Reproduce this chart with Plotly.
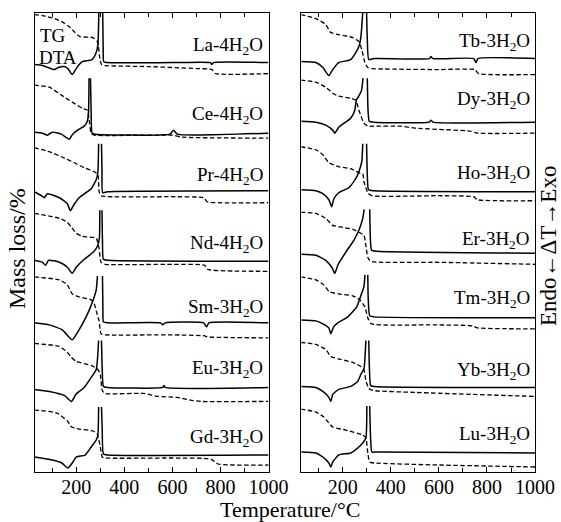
import plotly.graph_objects as go

# ---------------- data: (temperature °C, signal) pairs per sample ----------------
# TG = mass curve (dashed), DTA = differential thermal curve (solid).
# None marks the break at the top of the truncated exothermic peak.

LA_TG = [(25,64),(60,63),(110,60),(140,57),(170,52),(195,46),(215,42),(270,41),(288,37),(297,22),(305,14),(320,13),(500,12),(700,10),(765,9),(780,5),(1000,5)]
LA_DTA = [(25,14),(60,13),(109,9),(125,11),(150,12),(165,10),(183,4),(197,9),(212,14),(225,17),(266,19),(283,26),(290,34),(294,66),None,(310,66),(312,30),(314,17),(325,16),(600,16),(758,16),(764,14),(770,16),(1000,16)]

CE_TG = [(25,59),(88,57),(138,49),(183,42),(225,36),(246,34),(254,24),(262,11),(275,9),(600,9),(640,7),(1000,6)]
CE_DTA = [(25,12),(59,11),(80,9),(100,12),(138,10),(171,5),(185,10),(212,15),(233,18),(246,23),(251,32),(253,66),None,(259,66),(262,32),(266,11),(280,10),(590,10),(605,14),(620,10),(1000,11)]

PR_TG = [(25,62),(88,58),(138,53),(192,47),(233,42),(275,38),(290,35),(295,18),(303,14),(600,13),(730,12),(745,8),(1000,7)]
PR_DTA = [(25,18),(55,14),(67,12),(80,16),(130,12),(163,6),(175,-1),(190,5),(212,12),(240,17),(262,21),(283,30),(290,38),(293,66),None,(305,66),(307,40),(310,17),(330,18),(1000,19)]

ND_TG = [(25,62),(130,57),(163,53),(180,48),(200,42),(225,39),(283,37),(295,27),(303,13),(320,11),(600,11),(735,10),(745,6),(1000,4)]
ND_DTA = [(25,15),(59,13),(72,10),(85,15),(130,13),(163,8),(183,2),(200,8),(233,16),(270,23),(288,29),(296,37),(298,65),None,(307,65),(309,35),(313,16),(330,15),(1000,14)]

SM_TG = [(25,64),(130,61),(163,56),(183,47),(212,44),(262,41),(275,37),(283,30),(295,20),(303,7),(320,6),(600,6),(735,5),(745,4),(1000,3)]
SM_DTA = [(25,18),(88,16),(142,11),(183,1),(204,8),(241,24),(266,38),(283,51),(288,65),None,(309,65),(311,30),(313,19),(330,18),(550,18),(560,16),(570,18),(730,18),(742,14),(752,18),(1000,18)]

EU_TG = [(25,63),(130,60),(163,54),(180,49),(200,45),(262,41),(290,37),(300,32),(308,16),(320,13),(480,13),(540,10),(620,9),(680,6),(720,5),(1000,5)]
EU_DTA = [(25,17),(88,15),(150,11),(180,5),(198,12),(233,19),(262,29),(283,37),(293,66),None,(305,66),(308,37),(313,20),(330,19),(560,19),(565,21),(570,19),(1000,19)]

GD_TG = [(25,62),(120,59),(163,51),(180,45),(212,43),(270,41),(287,38),(300,25),(308,15),(320,14),(600,14),(760,13),(790,8),(1000,7)]
GD_DTA = [(25,15),(100,12),(140,9),(165,4),(183,9),(200,15),(237,17),(262,25),(283,32),(290,37),(293,65),None,(305,65),(308,42),(313,18),(330,17),(1000,17)]

TB_TG = [(25,64),(88,60),(129,54),(150,46),(183,44),(242,41),(267,37),(280,28),(292,16),(304,11),(320,10),(600,9),(750,9),(765,5),(1000,4)]
TB_DTA = [(25,17),(88,16),(117,11),(142,3),(158,9),(183,16),(233,19),(254,26),(267,32),(275,41),(283,66),None,(299,66),(302,39),(308,19),(330,20),(560,20),(567,22),(575,20),(745,20),(754,16),(762,20),(1000,20)]

DY_TG = [(25,64),(88,62),(129,57),(158,51),(183,48),(233,46),(254,44),(267,34),(288,21),(304,18),(330,18),(440,18),(500,16),(730,13),(760,11),(1000,11)]
DY_DTA = [(25,23),(88,22),(129,19),(158,14),(167,11),(183,17),(233,26),(250,34),(256,44),(264,47),(278,54),(284,66),None,(302,66),(305,34),(310,23),(330,22),(560,22),(567,24),(575,22),(1000,22)]

HO_TG = [(25,63),(88,60),(117,55),(142,47),(183,43),(233,41),(267,37),(283,36),(288,28),(304,17),(320,14),(600,14),(745,13),(760,10),(1000,9)]
HO_DTA = [(25,20),(88,19),(117,16),(142,10),(154,3),(163,11),(183,17),(225,22),(254,31),(267,38),(279,48),(283,66),None,(299,66),(302,35),(307,20),(330,19),(1000,18)]

ER_TG = [(25,63),(88,62),(129,57),(158,50),(200,48),(242,46),(267,43),(288,40),(296,30),(304,18),(316,14),(600,13),(1000,11)]
ER_DTA = [(25,21),(88,20),(129,15),(154,8),(167,2),(179,10),(212,23),(246,35),(267,45),(283,57),(289,66),None,(312,66),(315,35),(320,25),(340,24),(1000,22)]

TM_TG = [(25,64),(88,61),(121,56),(145,49),(183,47),(242,45),(271,41),(292,34),(304,23),(320,17),(580,16),(740,15),(760,13),(1000,12)]
TM_DTA = [(25,21),(88,20),(117,17),(142,13),(150,7),(162,14),(179,18),(221,24),(258,34),(279,48),(288,54),(292,66),None,(304,66),(306,41),(312,25),(330,24),(1000,23)]

YB_TG = [(25,64),(88,62),(129,57),(150,50),(192,47),(242,44),(275,40),(288,37),(296,26),(308,18),(325,16),(500,14),(1000,10)]
YB_DTA = [(25,20),(88,19),(117,15),(142,9),(150,5),(158,12),(183,17),(233,20),(262,25),(275,32),(288,38),(296,66),None,(308,66),(311,37),(316,21),(330,20),(1000,19)]

LU_TG = [(25,63),(88,60),(121,55),(142,49),(158,45),(212,42),(283,37),(296,34),(304,19),(312,10),(330,9),(600,7),(1000,5)]
LU_DTA = [(25,20),(88,19),(117,15),(142,9),(150,5),(158,10),(183,17),(233,19),(262,24),(283,29),(296,34),(300,66),None,(312,66),(316,32),(321,20),(340,20),(1000,19)]

LEFT_LABELS = ["La-4H<sub>2</sub>O", "Ce-4H<sub>2</sub>O", "Pr-4H<sub>2</sub>O", "Nd-4H<sub>2</sub>O",
               "Sm-3H<sub>2</sub>O", "Eu-3H<sub>2</sub>O", "Gd-3H<sub>2</sub>O"]
RIGHT_LABELS = ["Tb-3H<sub>2</sub>O", "Dy-3H<sub>2</sub>O", "Ho-3H<sub>2</sub>O", "Er-3H<sub>2</sub>O",
                "Tm-3H<sub>2</sub>O", "Yb-3H<sub>2</sub>O", "Lu-3H<sub>2</sub>O"]
LEFT_CURVES = [(LA_TG, LA_DTA), (CE_TG, CE_DTA), (PR_TG, PR_DTA), (ND_TG, ND_DTA),
               (SM_TG, SM_DTA), (EU_TG, EU_DTA), (GD_TG, GD_DTA)]
RIGHT_CURVES = [(TB_TG, TB_DTA), (DY_TG, DY_DTA), (HO_TG, HO_DTA), (ER_TG, ER_DTA),
                (TM_TG, TM_DTA), (YB_TG, YB_DTA), (LU_TG, LU_DTA)]
X_TICKS = [200, 400, 600, 800, 1000]

# ---------------- layout constants ----------------
ROW = 65.6            # vertical spacing between stacked samples
N_ROWS = 7
FONT = "Liberation Serif"
W, H = 580, 522       # figure size
DW = 561              # design width the horizontal positions below are given in
LEFT_LIFT = [33, 29, 34, 31, 33, 37, 34]    # label height inside each row
RIGHT_LIFT = [37, 44, 36, 35, 42, 35, 37]


def split(points, offset):
    xs, ys = [], []
    for p in points:
        if p is None:
            xs.append(None)
            ys.append(None)
        else:
            xs.append(p[0])
            ys.append(p[1] + offset)
    return xs, ys


fig = go.Figure()

panels = [("x", "y", LEFT_CURVES, LEFT_LABELS, LEFT_LIFT),
          ("x2", "y2", RIGHT_CURVES, RIGHT_LABELS, RIGHT_LIFT)]

annotations = []
for xa, ya, curves, labels, lifts in panels:
    for i, (tg, dta) in enumerate(curves):
        base = ROW * (N_ROWS - 1 - i)
        tx, ty = split(tg, base)
        fig.add_trace(go.Scatter(x=tx, y=ty, xaxis=xa, yaxis=ya, mode="lines",
                                 line=dict(color="black", width=1.3, dash="4.5px,2.5px",
                                           shape="spline", smoothing=0.5),
                                 connectgaps=False, hoverinfo="skip"))
        dx, dy = split(dta, base)
        fig.add_trace(go.Scatter(x=dx, y=dy, xaxis=xa, yaxis=ya, mode="lines",
                                 line=dict(color="black", width=1.5,
                                           shape="spline", smoothing=0.5),
                                 connectgaps=False, hoverinfo="skip"))
        annotations.append(dict(text=labels[i], xref=f"{xa} domain", yref=ya,
                                x=0.985, y=base + lifts[i], xanchor="right", yanchor="middle",
                                showarrow=False, font=dict(family=FONT, size=19, color="black")))

y_dom = [1 - 472 / H, 1 - 13 / H]
axis_common = dict(showline=True, linecolor="black", linewidth=1.3, mirror="ticks",
                   showgrid=False, zeroline=False)
x_common = dict(axis_common, range=[28, 1000], tickvals=X_TICKS, ticks="inside", ticklen=5,
                tickwidth=1, tickcolor="black", ticklabelstandoff=-3,
                minor=dict(dtick=100, tick0=0, ticks="inside", ticklen=4, tickwidth=1, tickcolor="black"),
                tickfont=dict(family=FONT, size=20, color="black"))
y_common = dict(axis_common, range=[0, ROW * N_ROWS], showticklabels=False, ticks="")

fig.update_layout(
    width=W, height=H, autosize=False, margin=dict(l=0, r=0, t=0, b=0),
    plot_bgcolor="white", paper_bgcolor="white", showlegend=False,
    xaxis=dict(x_common, domain=[35 / DW, 269 / DW], anchor="y"),
    yaxis=dict(y_common, domain=y_dom, anchor="x"),
    xaxis2=dict(x_common, domain=[302 / DW, 536 / DW], anchor="y2"),
    yaxis2=dict(y_common, domain=y_dom, anchor="x2"),
)

annotations += [
    dict(text="TG", xref="x domain", yref="paper", x=0.015, y=1 - 35 / H, xanchor="left",
         yanchor="middle", showarrow=False, font=dict(family=FONT, size=19, color="black")),
    dict(text="DTA", xref="x domain", yref="paper", x=0.01, y=1 - 57 / H, xanchor="left",
         yanchor="middle", showarrow=False, font=dict(family=FONT, size=19, color="black")),
    dict(text="Mass loss/%", xref="paper", yref="paper", x=17 / DW, y=1 - 248 / H,
         textangle=-90, showarrow=False, xanchor="center", yanchor="middle",
         font=dict(family=FONT, size=24, color="black")),
    dict(text="Endo←ΔT→Exo", xref="paper", yref="paper", x=549 / DW, y=1 - 246 / H,
         textangle=-90, showarrow=False, xanchor="center", yanchor="middle",
         font=dict(family=FONT, size=23, color="black")),
    dict(text="Temperature/°C", xref="paper", yref="paper", x=291 / DW, y=1 - 509 / H,
         showarrow=False, xanchor="center", yanchor="middle",
         font=dict(family=FONT, size=22, color="black")),
]
fig.update_layout(annotations=annotations)

fig.write_html("out.html", config={"responsive": False})
